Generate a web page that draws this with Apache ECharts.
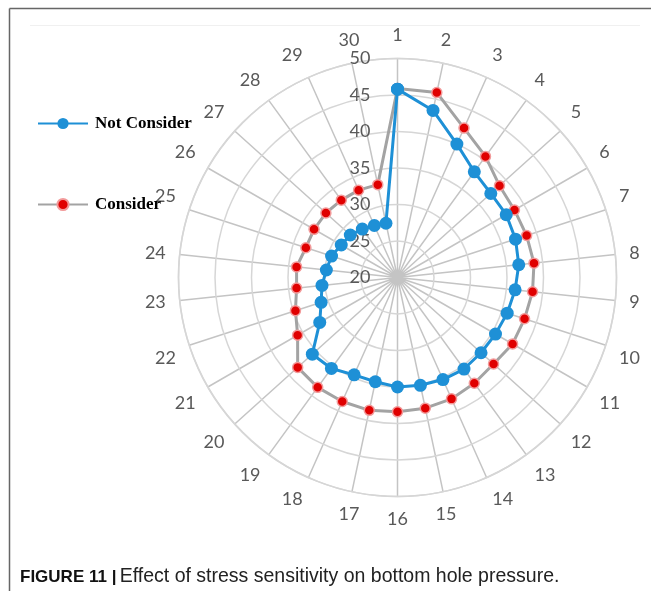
<!DOCTYPE html>
<html>
<head>
<meta charset="utf-8">
<script src="https://cdn.jsdelivr.net/npm/echarts@6/dist/echarts.min.js"></script>
<style>
html,body{margin:0;padding:0;background:#fff;}
#c{width:651px;height:591px;}
</style>
</head>
<body>
<div id="c"></div>
<script>
// Indicator labels (1..30)
const categories = Array.from({length: 30}, (_, i) => String(i + 1));
// Radial axis ticks
const radialTicks = [20, 25, 30, 35, 40, 45, 50];
// Series values
const notConsider = [45.8, 43.4, 40.0, 37.9, 37.2, 37.2, 37.0, 36.7, 36.2, 35.8,
                     35.5, 35.4, 35.5, 35.3, 35.1, 35.0, 34.6, 34.6, 35.4, 35.7,
                     32.3, 31.0, 30.4, 29.8, 29.5, 28.9, 28.7, 28.2, 27.8, 27.6];
const consider = [45.9, 45.9, 42.4, 40.5, 38.8, 38.5, 38.6, 38.8, 38.6, 38.3,
                  38.2, 37.7, 37.9, 38.2, 38.3, 38.4, 38.6, 38.6, 38.6, 38.4,
                  35.8, 34.7, 33.9, 33.9, 33.2, 33.2, 33.2, 33.1, 33.1, 33.0];
const seriesNames = ['Not Consider', 'Consider'];
const captionBold = 'FIGURE 11 |';
const captionText = 'Effect of stress sensitivity on bottom hole pressure.';

function closedLoop(vals) {
  const pts = vals.map((v, i) => [v, i]);
  pts.push([vals[0], vals.length]);
  return pts;
}

const n = categories.length;
const chart = echarts.init(document.getElementById('c'), null, {renderer: 'canvas'});
chart.setOption({
  animation: false,
  backgroundColor: '#ffffff',
  polar: { center: [397.5, 277.5], radius: 219 },
  angleAxis: {
    type: 'value', min: 0, max: n, interval: 1,
    startAngle: 90, clockwise: true,
    axisLine: { show: true, lineStyle: { color: '#d6d6d6', width: 1.5 } },
    axisTick: { show: false },
    splitLine: { show: true, lineStyle: { color: '#c4c4c4', width: 1.5 } },
    axisLabel: {
      margin: 14, color: '#595959', fontSize: 18, fontFamily: 'Lato',
      formatter: v => (v >= n ? '' : categories[Math.round(v)])
    }
  },
  radiusAxis: {
    type: 'value', min: radialTicks[0], max: radialTicks[radialTicks.length - 1], interval: 5,
    axisLine: { show: false },
    axisTick: { show: false },
    splitLine: { show: true, lineStyle: { color: '#d6d6d6', width: 1.5 } },
    axisLabel: { margin: 27, color: '#595959', fontSize: 18, fontFamily: 'Lato' },
    z: 1
  },
  legend: {
    orient: 'vertical', left: 32, top: 110,
    itemWidth: 50, itemHeight: 14, itemGap: 64,
    textStyle: { color: '#000', fontSize: 17, fontWeight: 'bold', fontFamily: 'Liberation Serif', padding: [0, 0, 0, 2] },
    data: seriesNames
  },
  series: [
    {
      name: seriesNames[1], type: 'line', coordinateSystem: 'polar',
      data: closedLoop(consider),
      symbol: 'circle', symbolSize: 10,
      lineStyle: { color: '#a3a3a3', width: 3 },
      itemStyle: { color: '#e00000', borderColor: '#f29a9a', borderWidth: 1.5 },
      z: 3
    },
    {
      name: seriesNames[0], type: 'line', coordinateSystem: 'polar',
      data: closedLoop(notConsider),
      symbol: 'circle', symbolSize: 13,
      lineStyle: { color: '#1e90d6', width: 3 },
      itemStyle: { color: '#1e90d6' },
      z: 4
    }
  ],
  graphic: [
    { type: 'line', shape: { x1: 9.5, y1: 8.5, x2: 651, y2: 8.5 }, style: { stroke: '#666', lineWidth: 1.5 } },
    { type: 'line', shape: { x1: 9.5, y1: 8.5, x2: 9.5, y2: 591 }, style: { stroke: '#666', lineWidth: 1.5 } },
    { type: 'line', shape: { x1: 30, y1: 25.5, x2: 640, y2: 25.5 }, style: { stroke: '#f0f0f0', lineWidth: 1 } },
    {
      type: 'text', left: 20, top: 567,
      style: {
        text: '{b|' + captionBold + '} {n|' + captionText + '}',
        rich: {
          b: { fontFamily: 'Liberation Sans', fontWeight: 'bold', fontSize: 17, fill: '#111' },
          n: { fontFamily: 'Liberation Sans', fontSize: 19.5, fill: '#222' }
        }
      }
    }
  ]
});
</script>
</body>
</html>
